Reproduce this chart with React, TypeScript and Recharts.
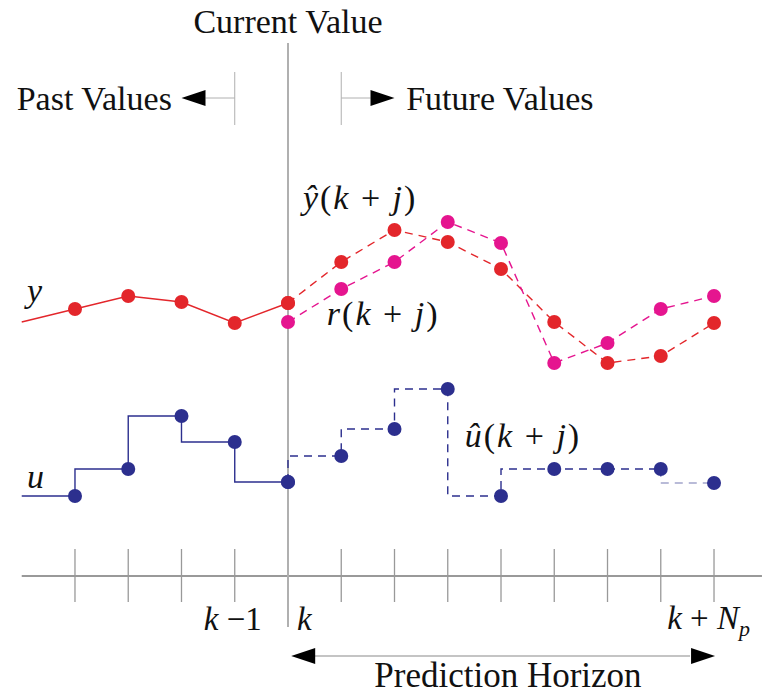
import React from 'react';
import { ComposedChart, Line, Scatter, XAxis, YAxis, ReferenceLine, ReferenceDot } from 'recharts';

// time steps: k sits at step 4, k + Np at step 12
const STEPS = [0, 1, 2, 3, 4, 5, 6, 7, 8, 9, 10, 11, 12];
const PAST_T = [-1, 0, 1, 2, 3, 4];
const FUTURE_T = [4, 5, 6, 7, 8, 9, 10, 11, 12];

const Y_PAST = [25.4, 26.7, 28.0, 27.4, 25.3, 27.3];
const Y_PRED = [27.3, 31.4, 34.6, 33.4, 30.7, 25.4, 21.3, 22.0, 25.3];
const R_REF = [25.4, 28.7, 31.4, 35.4, 33.3, 21.3, 23.3, 26.7, 28.0];
const U_PAST = [8.0, 8.0, 10.7, 16.0, 13.4, 9.4];
const U_PRED = [9.4, 12.0, 14.7, 18.7, 8.0, 10.7, 10.7, 10.7, 9.3];

const K_STEP = 4;
const NP_STEP = 12;

const FONT = 'Liberation Serif';
const RED = '#e3262b';
const MAGENTA = '#e5158f';
const NAVY = '#2c2f8e';
const GRAY = '#b0b0b0';

const zip = (ts: number[], vs: number[]) => ts.map((t, i) => ({ t, v: vs[i] }));

const yPast = zip(PAST_T, Y_PAST);
const yPred = zip(FUTURE_T, Y_PRED);
const rRef = zip(FUTURE_T, R_REF);
const uPast = zip(PAST_T, U_PAST);
const uPred = zip(FUTURE_T.slice(0, -1), U_PRED.slice(0, -1));
const uTail = zip(FUTURE_T.slice(-2), U_PRED.slice(-2));

const dots = (rows: { t: number; v: number }[]) => rows.filter((d) => d.t >= 0);

const circle = (color: string) => (p: any) => <circle cx={p.cx} cy={p.cy} r={7} fill={color} />;

const It = ({ children }: { children: React.ReactNode }) => <tspan fontStyle="italic">{children}</tspan>;

const textShape = (content: React.ReactNode, anchor: string = 'start', size: number = 34, spacing: number = 0) => (p: any) => (
  <text
    x={p.cx}
    y={p.cy}
    textAnchor={anchor}
    style={{ fontFamily: FONT, fontSize: size, letterSpacing: spacing }}
    fill="#111"
  >
    {content}
  </text>
);

const arrowShape = (dir: 'left' | 'right') => (p: any) => {
  const s = dir === 'left' ? 1 : -1;
  return (
    <polygon
      points={`${p.cx},${p.cy} ${p.cx + s * 24},${p.cy - 8} ${p.cx + s * 24},${p.cy + 8}`}
      fill="#000"
    />
  );
};

const App: React.FC = () => {
  return (
    <div style={{ position: 'absolute', left: 0, top: 0, background: '#fff' }}>
      <ComposedChart width={762} height={696} margin={{ top: 0, right: 0, bottom: 0, left: 0 }}>
        <XAxis type="number" dataKey="t" domain={[-1.408, 12.901]} hide allowDataOverflow />
        <YAxis type="number" dataKey="v" domain={[-12, 57.6]} hide allowDataOverflow />

        {/* time axis */}
        <ReferenceLine segment={[{ x: -1, y: 0 }, { x: 12.9, y: 0 }]} stroke="#777" strokeWidth={1.3} />
        {STEPS.map((s) => (
          <ReferenceLine key={`tick-${s}`} segment={[{ x: s, y: 2.7 }, { x: s, y: -2.6 }]} stroke="#999" strokeWidth={1.3} />
        ))}

        {/* current value marker */}
        <ReferenceLine segment={[{ x: K_STEP, y: 53.3 }, { x: K_STEP, y: -5.1 }]} stroke={GRAY} strokeWidth={2} />

        {/* past / future markers */}
        <ReferenceLine segment={[{ x: K_STEP - 1, y: 50.4 }, { x: K_STEP - 1, y: 45.1 }]} stroke={GRAY} strokeWidth={1} />
        <ReferenceLine segment={[{ x: K_STEP - 1, y: 47.8 }, { x: K_STEP - 1.55, y: 47.8 }]} stroke={GRAY} strokeWidth={1} />
        <ReferenceDot x={K_STEP - 2} y={47.8} shape={arrowShape('left')} />
        <ReferenceLine segment={[{ x: K_STEP + 1, y: 50.4 }, { x: K_STEP + 1, y: 45.1 }]} stroke={GRAY} strokeWidth={1} />
        <ReferenceLine segment={[{ x: K_STEP + 1, y: 47.8 }, { x: K_STEP + 1.55, y: 47.8 }]} stroke={GRAY} strokeWidth={1} />
        <ReferenceDot x={K_STEP + 2} y={47.8} shape={arrowShape('right')} />

        {/* prediction horizon */}
        <ReferenceLine segment={[{ x: K_STEP + 0.5, y: -8 }, { x: NP_STEP - 0.45, y: -8 }]} stroke={GRAY} strokeWidth={1.3} />
        <ReferenceDot x={K_STEP + 0.06} y={-8} shape={arrowShape('left')} />
        <ReferenceDot x={NP_STEP + 0.02} y={-8} shape={arrowShape('right')} />

        <Line data={yPast} dataKey="v" stroke={RED} strokeWidth={1.4} dot={false} activeDot={false} isAnimationActive={false} />
        <Line data={yPred} dataKey="v" stroke={RED} strokeWidth={1.4} strokeDasharray="8 6" dot={false} activeDot={false} isAnimationActive={false} />
        <Line data={rRef} dataKey="v" stroke={MAGENTA} strokeWidth={1.4} strokeDasharray="8 6" dot={false} activeDot={false} isAnimationActive={false} />
        <Line data={uPast} type="stepBefore" dataKey="v" stroke={NAVY} strokeWidth={1.4} dot={false} activeDot={false} isAnimationActive={false} />
        <Line data={uPred} type="stepBefore" dataKey="v" stroke={NAVY} strokeWidth={1.4} strokeDasharray="8 6" dot={false} activeDot={false} isAnimationActive={false} />
        <Line data={uTail} type="stepBefore" dataKey="v" stroke="#a3a5cc" strokeWidth={1.4} strokeDasharray="8 6" dot={false} activeDot={false} isAnimationActive={false} />

        <Scatter data={dots(yPast)} shape={circle(RED)} isAnimationActive={false} />
        <Scatter data={yPred} shape={circle(RED)} isAnimationActive={false} />
        <Scatter data={rRef} shape={circle(MAGENTA)} isAnimationActive={false} />
        <Scatter data={dots(uPast)} shape={circle(NAVY)} isAnimationActive={false} />
        <Scatter data={U_PRED.map((v, i) => ({ t: FUTURE_T[i], v }))} shape={circle(NAVY)} isAnimationActive={false} />

        {/* text */}
        <ReferenceDot x={K_STEP} y={54.3} shape={textShape('Current Value', 'middle')} />
        <ReferenceDot x={1.82} y={46.6} shape={textShape('Past Values', 'end')} />
        <ReferenceDot x={6.22} y={46.6} shape={textShape('Future Values')} />
        <ReferenceDot x={8.13} y={-11.1} shape={textShape('Prediction Horizon', 'middle', 35)} />
        <ReferenceDot x={-0.9} y={27.4} shape={textShape(<It>y</It>)} />
        <ReferenceDot x={-0.9} y={8.8} shape={textShape(<It>u</It>)} />
        <ReferenceDot
          x={4.28}
          y={36.7}
          shape={textShape(<><It>ŷ</It>(<It>k</It> + <It>j</It>)</>, 'start', 34, 2)}
        />
        <ReferenceDot
          x={4.73}
          y={25.1}
          shape={textShape(<><It>r</It>(<It>k</It> + <It>j</It>)</>, 'start', 34, 2)}
        />
        <ReferenceDot
          x={7.32}
          y={12.9}
          shape={textShape(<><It>û</It>(<It>k</It> + <It>j</It>)</>, 'start', 34, 2)}
        />
        <ReferenceDot x={2.42} y={-5.4} shape={textShape(<><It>k</It> −1</>, 'start', 33)} />
        <ReferenceDot x={4.17} y={-5.4} shape={textShape(<It>k</It>, 'start', 33)} />
        <ReferenceDot
          x={11.12}
          y={-5.3}
          shape={textShape(<><It>k</It> + <It>N</It><tspan fontStyle="italic" fontSize={22} dy={7}>p</tspan></>, 'start', 33)}
        />
      </ComposedChart>
    </div>
  );
};

export default App;
